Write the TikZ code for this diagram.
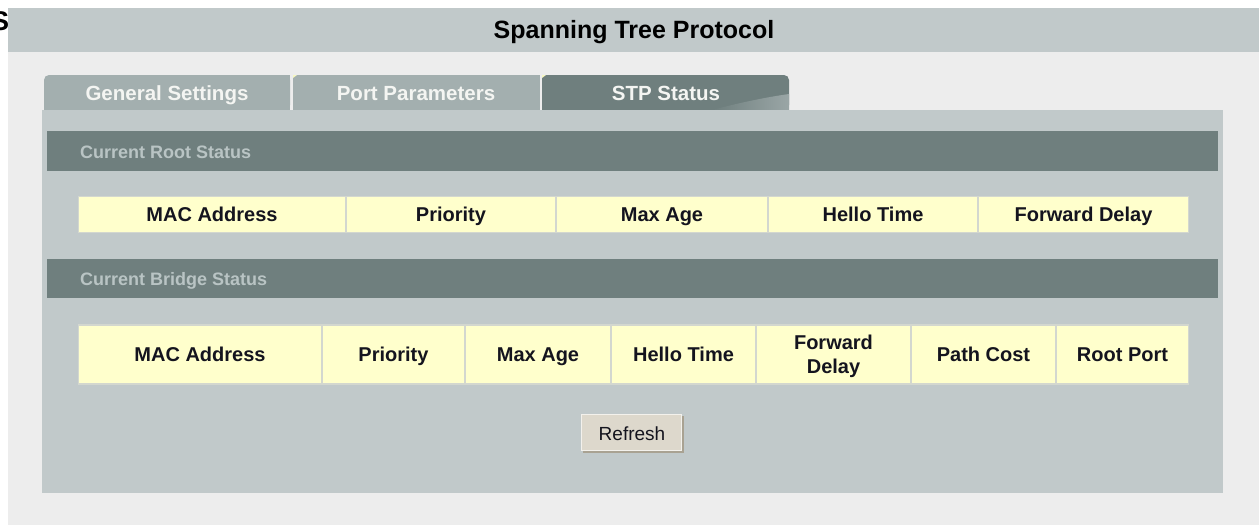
\documentclass[tikz,border=0pt]{standalone}
\usepackage{fontspec}
\setmainfont{Liberation Sans}

\definecolor{pagebg}{HTML}{EDEDED}
\definecolor{barbg}{HTML}{C1C9CA}
\definecolor{darkbar}{HTML}{6F7F7E}
\definecolor{tablight}{HTML}{9AA6A6}
\definecolor{headtxt}{HTML}{B9C4C4}
\definecolor{tabgrey}{HTML}{A3AFAF}
\definecolor{tabtxt}{HTML}{F4F5F2}
\definecolor{cellfill}{HTML}{FFFFCC}
\definecolor{cellline}{HTML}{D3D7CF}
\definecolor{celltxt}{HTML}{14141E}
\definecolor{btnfill}{HTML}{DDD8CC}
\definecolor{btnshade}{HTML}{A9A292}
\definecolor{btnlight}{HTML}{F3F1EC}

\tikzset{
  titletext/.style={font=\bfseries\fontsize{25}{25}\selectfont, text=black, inner sep=0pt},
  tabtext/.style={font=\bfseries\fontsize{20.5}{21}\selectfont, text=tabtxt, inner sep=0pt, anchor=base},
  headtext/.style={font=\bfseries\fontsize{18}{18}\selectfont, text=headtxt, inner sep=0pt, anchor=base west},
  cellbox/.style={fill=cellfill, inner sep=0pt, align=center, text=celltxt,
    font=\bfseries\fontsize{20}{24}\selectfont, text height=14.3pt, text depth=0pt},
  darkbarbox/.style={fill=darkbar, inner sep=0pt, anchor=north west},
  btntext/.style={font=\fontsize{19}{19}\selectfont, text=celltxt, inner sep=0pt, anchor=base},
}

\begin{document}
\begin{tikzpicture}[x=1pt,y=-1pt]
\useasboundingbox (0,0) rectangle (1259,525);
\fill[white] (0,0) rectangle (1259,525);

% cut-off initial behind the title bar
\node[font=\bfseries\fontsize{27}{27}\selectfont, inner sep=0pt, anchor=base west] (cutS) at (-9,30) {S};

% page area and title bar
\fill[pagebg] (8,52) rectangle (1259,525);
\fill[barbg] (8,8) rectangle (1259,52);
\node[titletext, anchor=base] (title) at (634,38) {Spanning Tree Protocol};

% tabs
\fill[tabgrey, rounded corners=5pt] (44,75) rectangle (290,110);
\fill[tabgrey] (44,88) rectangle (290,110);
\fill[tabgrey] (120,75) rectangle (290,110);
\fill[tabgrey] (293,75) rectangle (540,110);
\fill[darkbar, rounded corners=5pt] (542,75) rectangle (789,110);
\fill[darkbar] (542,75) rectangle (700,110);
\fill[darkbar] (542,90) rectangle (789,110);
\shade[left color=darkbar, right color=tablight] (712,110) .. controls (750,100) and (775,96) .. (789,94) -- (789,110) -- cycle;
\fill[tabtxt!80!yellow] (293,75) -- (297,75) -- (293,78) -- cycle;
\fill[tabtxt!80!yellow] (542,75) -- (546,75) -- (542,78) -- cycle;
\node[tabtext] (tabgen) at (167,100) {General Settings};
\node[tabtext] (tabport) at (416,100) {Port Parameters};
\node[tabtext] (tabstp) at (666,100) {STP Status};

% main panel
\fill[barbg] (42,110) rectangle (1223,493);

% current root status
\node[darkbarbox, minimum width=1171pt, minimum height=40pt] (rootbar) at (47,131) {};
\node[headtext] (roottitle) at (80,158) {Current Root Status};

\fill[cellline] (78,196) rectangle (1189,233);
\node[cellbox, minimum width=266pt, minimum height=35pt] (r1) at (212,214.5) {MAC Address};
\node[cellbox, minimum width=208pt, minimum height=35pt] (r2) at (451,214.5) {Priority};
\node[cellbox, minimum width=210pt, minimum height=35pt] (r3) at (662,214.5) {Max Age};
\node[cellbox, minimum width=208pt, minimum height=35pt] (r4) at (873,214.5) {Hello Time};
\node[cellbox, minimum width=209pt, minimum height=35pt] (r5) at (1083.5,214.5) {Forward Delay};

% current bridge status
\node[darkbarbox, minimum width=1171pt, minimum height=39pt] (bridgebar) at (47,259) {};
\node[headtext] (bridgetitle) at (80,285) {Current Bridge Status};

\fill[cellline] (78,324) rectangle (1189,385);
\node[cellbox, minimum width=242pt, minimum height=57pt] (b1) at (200,354.5) {MAC Address};
\node[cellbox, minimum width=141pt, minimum height=57pt] (b2) at (393.5,354.5) {Priority};
\node[cellbox, minimum width=144pt, minimum height=57pt] (b3) at (538,354.5) {Max Age};
\node[cellbox, minimum width=143pt, minimum height=57pt] (b4) at (683.5,354.5) {Hello Time};
\node[cellbox, minimum width=153pt, minimum height=57pt, text height=38.3pt] (b5) at (833.5,354.5) {Forward\\Delay};
\node[cellbox, minimum width=143pt, minimum height=57pt] (b6) at (983.5,354.5) {Path Cost};
\node[cellbox, minimum width=131pt, minimum height=57pt] (b7) at (1122.5,354.5) {Root Port};

% refresh button
\fill[btnshade] (583,416) rectangle (684,453);
\fill[btnlight] (581,414) rectangle (682,451);
\fill[btnfill] (582,415) rectangle (681,450);
\node[btntext] (refresh) at (632,440) {Refresh};
\end{tikzpicture}
\end{document}
